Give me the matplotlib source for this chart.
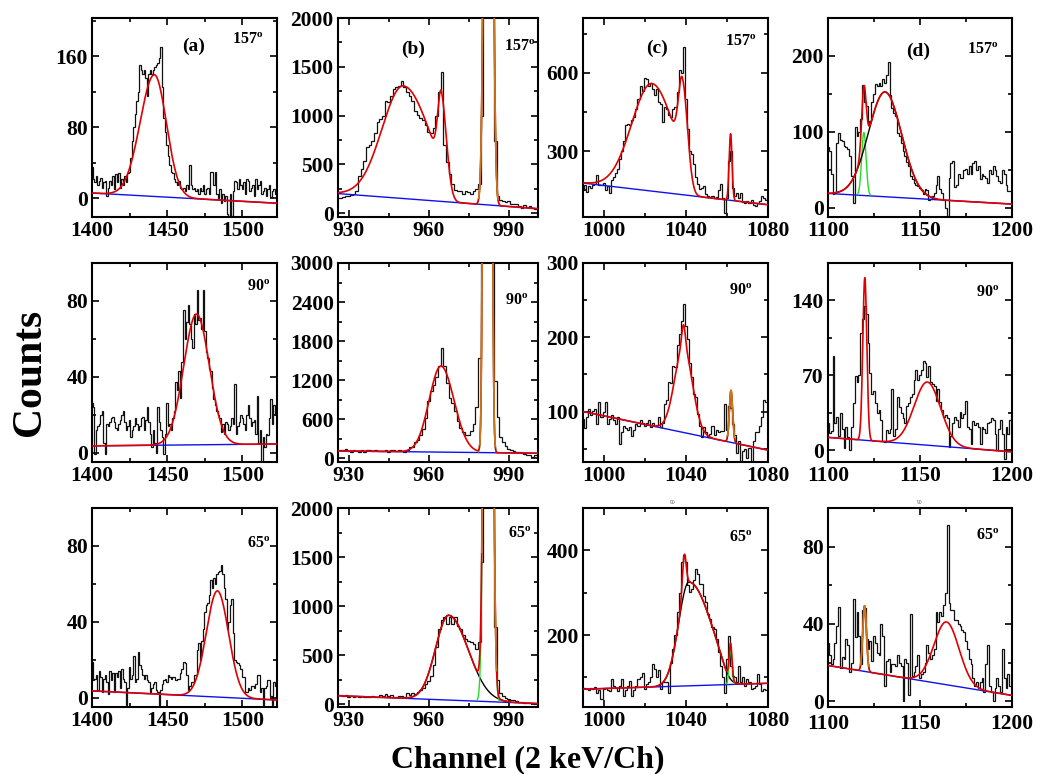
import numpy as np
import matplotlib
matplotlib.use("Agg")
import matplotlib.pyplot as plt
from matplotlib.ticker import MultipleLocator

plt.rcParams['font.family'] = ['Liberation Serif', 'DejaVu Serif']
plt.rcParams['font.weight'] = 'bold'
plt.rcParams['mathtext.fontset'] = 'custom'
plt.rcParams['mathtext.bf'] = 'Liberation Serif:bold'
plt.rcParams['mathtext.rm'] = 'Liberation Serif:bold'

# ---------------- channel axes (one count per channel) ----------------
chan_a = np.arange(1400, 1523)
chan_b = np.arange(926, 1002)
chan_c = np.arange(990, 1081)
chan_d = np.arange(1100, 1200)

# ---------------- spectra: 157 deg ----------------
counts_a157 = [35, 22, 18, 25, 15, 20, 23, 12, 18, 20,
               3, 12, 20, 15, 25, 10, 27, 18, 28, 12,
               22, 15, 25, 18, 28, 30, 45, 65, 80, 95,
               110, 120, 150, 145, 140, 145, 135, 115, 140, 145,
               140, 145, 148, 150, 152, 158, 170, 125, 90, 75,
               60, 48, 38, 30, 28, 22, 18, 15, 20, 12,
               10, 12, 8, 15, 10, 38, 15, 10, 12, 8,
               10, 5, 12, 8, 15, 5, 10, 12, 5, 30,
               30, 15, 30, 5, 0, 10, -5, 5, -3, 3,
               -18, -25, 5, -20, 8, 20, 18, 10, 22, 15,
               10, 18, 5, 22, 20, 8, 12, 15, 3, 22,
               10, 15, 20, 5, 8, 12, 3, 10, 15, 2,
               8, 10, 5]
counts_b157 = [150, 150, 160, 175, 180, 190, 200, 230, 380, 450,
               530, 680, 700, 740, 820, 930, 960, 1000, 1150, 1140,
               1200, 1270, 1290, 1300, 1350, 1290, 1240, 1200, 1150, 1050,
               1010, 980, 950, 900, 830, 820, 870, 1000, 1240, 1450,
               700, 520, 400, 300, 240, 230, 230, 200, 230, 220,
               200, 230, 250, 300, 1000, 9000, 16000, 12000, 4000, 740,
               180, 130, 120, 110, 120, 95, 90, 90, 70, 50,
               80, 60, 70, 50, 40, 45]
counts_c157 = [150, 170, 145, 165, 160, 170, 175, 210, 170, 170,
               180, 150, 165, 140, 190, 200, 215, 230, 270, 300,
               340, 400, 405, 400, 420, 430, 460, 500, 550, 530,
               580, 575, 550, 560, 540, 515, 540, 490, 480, 410,
               470, 460, 440, 430, 460, 470, 527, 610, 600, 700,
               500, 386, 300, 290, 250, 200, 174, 155, 160, 165,
               135, 130, 125, 130, 120, 125, 150, 174, 120, 65,
               120, 264, 302, 160, 130, 140, 120, 140, 105, 100,
               110, 100, 115, 95, 90, 100, 110, 130, 120, 115,
               120]
counts_d157 = [80, 75, 45, 18, 20, 86, 99, 90, 88, 81,
               80, 77, 68, 42, 7, 106, 95, 100, 117, 162,
               140, 134, 110, 115, 139, 150, 163, 160, 165, 160,
               170, 165, 175, 192, 148, 132, 125, 121, 99, 95,
               86, 75, 68, 60, 55, 42, 38, 33, 30, 29,
               26, 24, 18, 25, 24, 10, 12, 15, 20, 30,
               42, 25, 20, 10, 0, -11, 40, 59, 62, 28,
               30, 45, 40, 39, 50, 51, 45, 55, 45, 59,
               62, 50, 55, 38, 45, 42, 40, 33, 50, 45,
               55, 50, 42, 35, 33, 50, 45, 30, 22, 22]

# ---------------- spectra: 90 deg ----------------
counts_a90 = [26, 24, -1, 12, 14, 15, 20, 22, 5, -1,
              15, 14, 16, 18, 19, 16, 13, 12, 15, 17,
              20, 22, 16, 12, 14, 17, 8, 12, 14, 18,
              15, 12, 14, 18, 19, 12, 17, 24, 16, 10,
              3, 12, 5, 0, 24, 16, 12, 8, -1, 10,
              26, 14, 15, 12, 18, 22, 37, 33, 43, 29,
              48, 75, 60, 69, 78, 68, 60, 55, 73, 68,
              86, 70, 71, 65, 86, 64, 53, 50, 44, 43,
              34, 28, 25, 22, 20, 18, 11, 15, 10, 16,
              15, 12, 14, 18, 15, 36, 10, 14, 16, 20,
              18, 15, 12, 20, 25, 18, 14, 16, 17, 10,
              30, 5, 12, -5, 8, 3, 10, 9, 18, 28,
              15, 25, 20]
counts_b90 = [130, 125, 120, 135, 110, 100, 120, 105, 90, 130,
              100, 130, 125, 110, 120, 115, 105, 110, 120, 100,
              130, 120, 115, 125, 110, 90, 120, 170, 170, 240,
              280, 350, 450, 620, 880, 1030, 1130, 1240, 1410, 1700,
              1410, 1160, 930, 850, 730, 575, 460, 400, 350, 360,
              420, 520, 780, 1540, 9000, 30000, 35000, 15000, 3500, 1185,
              625, 320, 244, 193, 142, 117, 110, 100, 95, 80,
              66, 55, 41, 20, 45, 30]
counts_c90 = [90, 78, 92, 104, 95, 101, 104, 83, 113, 92,
              100, 113, 83, 90, 95, 88, 83, 92, 56, 72,
              81, 78, 75, 79, 67, 75, 83, 80, 88, 85,
              81, 84, 88, 79, 85, 80, 82, 92, 79, 85,
              110, 115, 140, 138, 161, 160, 190, 205, 222, 245,
              215, 197, 165, 147, 124, 120, 97, 81, 65, 79,
              72, 65, 70, 81, 69, 75, 72, 74, 74, 110,
              75, 108, 105, 83, 69, 44, 60, 31, 47, 50,
              37, 51, 28, 60, 72, 72, 80, 92, 115, 113,
              110]
counts_d90 = [25, 16, 18, 88, 25, 31, 13, 35, 20, 2,
              22, 12, 0, 22, 44, 69, 64, 70, 110, 123,
              135, 127, 100, 72, 53, 55, 44, 35, 38, 28,
              9, 8, 19, 16, 20, 57, 13, 20, 50, 40,
              35, 30, 25, 41, 44, 50, 53, 66, 75, 66,
              70, 75, 83, 82, 68, 79, 64, 62, 60, 46,
              57, 45, 38, 31, 33, 30, 3, 13, 25, 31,
              28, 22, 36, 30, 34, 46, 22, 20, 6, 27,
              24, 25, 22, 6, 22, 20, 16, 25, 26, 30,
              28, 15, 0, 20, 28, 15, -8, 22, 15, 28]

# ---------------- spectra: 65 deg ----------------
counts_a65 = [19, 9, 10, 12, 4, 14, 11, 3, 10, 12,
              8, 2, 14, 9, 13, 3, 13, 11, 14, 5,
              15, 10, 8, -4, 5, 16, 10, 12, 22, 8,
              10, 24, 17, 15, 12, 10, 12, 9, 8, 3,
              5, 7, 8, 4, 3, -4, 4, 7, 9, 10,
              8, 12, 11, 10, 11, 11, 9, 10, 10, 13,
              15, 19, 18, 12, 4, 6, 8, 8, 12, 12,
              25, 29, 20, 30, 36, 45, 49, 50, 54, 62,
              58, 63, 60, 65, 66, 67, 70, 65, 58, 52,
              36, 40, 49, 52, 34, 20, 19, 18, 17, 15,
              11, 11, 3, 3, 5, 4, 6, 6, 5, 7,
              12, 12, 3, 5, -4, 5, 6, 9, 9, 1,
              -4, 8, 6]
counts_b65 = [95, 90, 85, 95, 75, 80, 70, 85, 75, 80,
              70, 75, 70, 80, 75, 70, 90, 80, 100, 85,
              95, 75, 70, 80, 85, 75, 110, 90, 110, 100,
              120, 140, 165, 200, 234, 286, 400, 578, 768, 854,
              888, 820, 888, 820, 888, 800, 768, 700, 664, 647,
              630, 613, 561, 630, 1450, 12000, 25000, 18000, 5000, 785,
              250, 114, 79, 62, 55, 45, 40, 28, 25, 20,
              10, 15, 10, 8, 5, 5]
counts_c65 = [74, 75, 72, 70, 75, 72, 78, 64, 70, 48,
              72, 75, 70, 68, 96, 80, 75, 68, 80, 96,
              56, 70, 80, 92, 56, 70, 80, 96, 100, 111,
              72, 85, 88, 100, 131, 119, 100, 118, 72, 88,
              90, 88, 64, 135, 167, 200, 254, 300, 372, 388,
              372, 317, 301, 309, 330, 356, 345, 321, 320, 293,
              277, 250, 238, 218, 214, 190, 159, 127, 100, 64,
              143, 198, 127, 104, 100, 88, 127, 88, 100, 80,
              96, 90, 72, 76, 80, 107, 85, 68, 72, 70,
              72]
counts_d65 = [30, 24, 19, 22, 30, 39, 49, 17, 23, 22,
              32, 29, 15, 20, 53, 33, 46, 34, 19, 47,
              48, 32, 27, 31, 21, 34, 30, 25, 24, 40,
              34, 8, 21, 22, 15, 19, 19, 18, 24, 20,
              18, 0, 22, 20, 3, 45, 13, 15, 18, 24,
              12, 14, 15, 20, 29, 25, 22, 24, 27, 46,
              41, 46, 44, 50, 56, 91, 51, 47, 47, 42,
              42, 40, 39, 37, 36, 31, 27, 22, 19, 12,
              8, 10, 7, 10, 12, 5, 19, 29, 8, 5,
              0, 7, 12, 8, 5, 27, 12, 7, 14, 8]

# ---------------- fitted line shapes ----------------
# background: linear, value at the left and right limits of the panel
# peak: (centre, height, sigma_low, sigma_high, cutoff, cutoff_width, drawn_as)
bg_a157, fit_a157 = (6, -5.5), [(1441.5, 137, 9.5, 8.0, None, None, None)]
bg_b157, fit_b157 = (200, 45), [(950.5, 1155, 8.0, 10.0, 965.5, 1.2, None),
                                (964.8, 860, 1.3, 2.0, None, None, None),
                                (982.4, 14000, 1.1, 1.1, None, None, 'green')]
bg_c157, fit_c157 = (178, 95), [(1023.5, 412, 9.8, 11.0, 1042, 1.2, None),
                                (1038.3, 290, 1.8, 2.5, None, None, None),
                                (1061.8, 255, 0.7, 0.7, None, None, None)]
bg_d157, fit_d157 = (19, 5), [(1119.5, 83, 1.2, 1.2, None, None, 'green'),
                              (1131, 138, 9.0, 9.0, None, None, 'black')]

bg_a90, fit_a90 = (3.5, 4.5), [(1469.5, 69, 8.5, 8.5, None, None, None)]
bg_b90, fit_b90 = (110, 75), [(964.6, 1323, 4.4, 4.9, None, None, None),
                              (982.05, 80000, 0.8, 0.8, None, None, 'green')]
bg_c90, fit_c90 = (100, 48), [(1038.9, 115, 4.3, 4.3, None, None, None),
                              (1038.9, 30, 0.9, 0.9, None, None, None),
                              (1062, 70, 0.8, 0.8, None, None, 'green')]
bg_d90, fit_d90 = (12, -1.5), [(1120, 152, 1.1, 1.1, None, None, None),
                               (1154, 59, 7.2, 7.2, None, None, None)]

bg_a65, fit_a65 = (3.5, -1.3), [(1483.4, 56, 7.4, 7.4, None, None, None)]
bg_b65, fit_b65 = (85, 5), [(967.5, 865, 4.9, 7.3, None, None, 'black'),
                            (982.35, 16200, 1.1, 1.1, None, None, 'green')]
bg_c65, fit_c65 = (72, 86), [(1041.5, 245, 5.0, 10.9, 1060, 2.0, 'black'),
                             (1039.2, 89, 0.9, 0.9, None, None, None),
                             (1061.8, 85, 0.7, 0.7, None, None, 'green')]
bg_d65, fit_d65 = (18.5, 3), [(1119.9, 34, 1.0, 1.0, None, None, 'green'),
                              (1164.4, 32.5, 6.8, 6.8, None, None, None)]

# ---------------- axes settings ----------------
xlim_a, xlim_b, xlim_c, xlim_d = (1400, 1523), (926, 1001), (990, 1080), (1100, 1200)
xtick_a, xtick_b, xtick_c, xtick_d = (50, 25), (30, 15), (40, 20), (50, 25)
ylims = [[(-21, 203), (-40, 2000), (48, 810), (-12, 250)],
         [(-5, 100), (-60, 3000), (32, 300), (-11, 175)],
         [(-5, 100), (-30, 2000), (30, 500), (-3, 100)]]
yticks = [[(80, 40), (500, 250), (300, 150), (100, 50)],
          [(40, 20), (600, 300), (100, 50), (70, 35)],
          [(40, 20), (500, 250), (200, 100), (40, 20)]]
angles = ['157', '90', '65']
letters = ['(a)', '(b)', '(c)', '(d)']
letter_pos = [(0.55, 0.86), (0.375, 0.84), (0.40, 0.85), (0.49, 0.83)]
angle_pos = [[(0.84, 0.89), (0.91, 0.855), (0.85, 0.88), (0.84, 0.84)],
             [(0.90, 0.88), (0.895, 0.81), (0.85, 0.86), (0.87, 0.85)],
             [(0.90, 0.82), (0.91, 0.87), (0.85, 0.85), (0.87, 0.86)]]

spectra = [[counts_a157, counts_b157, counts_c157, counts_d157],
           [counts_a90, counts_b90, counts_c90, counts_d90],
           [counts_a65, counts_b65, counts_c65, counts_d65]]
backgrounds = [[bg_a157, bg_b157, bg_c157, bg_d157],
               [bg_a90, bg_b90, bg_c90, bg_d90],
               [bg_a65, bg_b65, bg_c65, bg_d65]]
fits = [[fit_a157, fit_b157, fit_c157, fit_d157],
        [fit_a90, fit_b90, fit_c90, fit_d90],
        [fit_a65, fit_b65, fit_c65, fit_d65]]
channels = [chan_a, chan_b, chan_c, chan_d]
xlims = [xlim_a, xlim_b, xlim_c, xlim_d]
xticks = [xtick_a, xtick_b, xtick_c, xtick_d]

W, H = 1037, 774
col_left = [92, 338, 583, 828]
col_width = [185, 200, 185, 184]
row_top = [18, 263, 508]
row_height = 199


def peak_shape(x, c, A, sl, sr, cut, w):
    s = np.where(x < c, sl, sr)
    y = A * np.exp(-0.5 * ((x - c) / s) ** 2)
    if cut is not None:
        y = y / (1.0 + np.exp((x - cut) / w))
    return y


fig = plt.figure(figsize=(W / 100, H / 100), dpi=100)

for r in range(3):
    for c in range(4):
        ax = fig.add_axes([col_left[c] / W, 1 - (row_top[r] + row_height) / H,
                           col_width[c] / W, row_height / H])
        ch = channels[c]
        cnt = np.asarray(spectra[r][c], dtype=float)
        edges = np.arange(ch[0] - 0.5, ch[-1] + 1.5)
        ax.stairs(cnt, edges, color='#111111', lw=0.9, baseline=None, zorder=2)

        x0, x1 = xlims[c]
        x = np.linspace(x0, x1, 4000)
        b0, b1 = backgrounds[r][c]
        bg = b0 + (b1 - b0) * (x - x0) / (x1 - x0)
        parts = [peak_shape(x, *p[:6]) for p in fits[r][c]]
        total = bg + np.sum(parts, axis=0)
        yrng = ylims[r][c][1] - ylims[r][c][0]

        ax.plot(x, bg, color='#1010ee', lw=1.0, zorder=3)
        for p, part in zip(fits[r][c], parts):
            shown = np.where(part > 0.004 * yrng, bg + part, np.nan)
            if p[6] == 'green':
                ax.plot(x, shown, color='#22dd22', lw=1.0, zorder=4)
            elif p[6] == 'black':
                ax.plot(x, shown, color='black', lw=1.0, zorder=4)
        ax.plot(x, total, color='#e00000', lw=1.2, zorder=5)
        for p, part in zip(fits[r][c], parts):
            if p[6] == 'green':
                share = part / np.maximum(total - bg, 1e-9)
                mask = (share > 0.88) & (part > 0.03 * yrng)
                ax.plot(x, np.where(mask, bg + part, np.nan),
                        color='#c8781e', lw=1.2, zorder=6)

        ax.set_xlim(x0, x1)
        ax.set_ylim(*ylims[r][c])
        ax.xaxis.set_major_locator(MultipleLocator(xticks[c][0]))
        ax.xaxis.set_minor_locator(MultipleLocator(xticks[c][1]))
        ax.yaxis.set_major_locator(MultipleLocator(yticks[r][c][0]))
        ax.yaxis.set_minor_locator(MultipleLocator(yticks[r][c][1]))
        ax.tick_params(which='both', direction='in', top=True, right=True,
                       width=1.2, labelsize=15.5, pad=3)
        ax.tick_params(which='major', length=5)
        ax.tick_params(which='minor', length=3)
        if r == 2 and c == 3:
            ax.tick_params(axis='x', which='major', pad=5)
        for s in ax.spines.values():
            s.set_linewidth(1.5)
        for lab in ax.get_xticklabels() + ax.get_yticklabels():
            lab.set_fontweight('bold')

        ax.text(*angle_pos[r][c], r'$\mathbf{%s^{o}}$' % angles[r],
                transform=ax.transAxes, fontsize=11.5, ha='center', va='center')
        if r == 0:
            ax.text(*letter_pos[c], letters[c], transform=ax.transAxes,
                    fontsize=14, fontweight='bold', ha='center', va='center')

fig.text(673 / W, 1 - 503 / H, '90', fontsize=4, color='#555555',
         fontweight='normal', ha='center', va='center')
fig.text(920 / W, 1 - 503 / H, '90', fontsize=4, color='#555555',
         fontweight='normal', ha='center', va='center')
fig.text(30 / W, 1 - 372 / H, 'Counts', rotation=90, fontsize=30,
         fontweight='bold', ha='center', va='center')
fig.text(528 / W, 1 - 760 / H, 'Channel (2 keV/Ch)', fontsize=23,
         fontweight='bold', ha='center', va='center')

fig.savefig('out.png', dpi=100)
